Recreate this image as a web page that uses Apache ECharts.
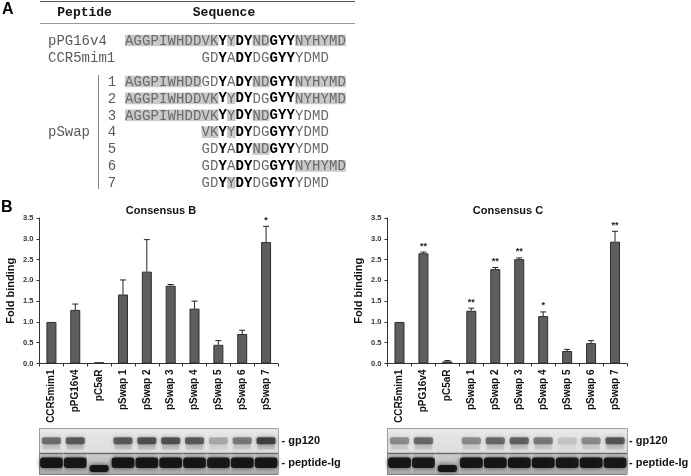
<!DOCTYPE html>
<html><head><meta charset="utf-8">
<script src="https://cdn.jsdelivr.net/npm/echarts@6/dist/echarts.min.js"></script>
<style>html,body{margin:0;padding:0;background:#fff}#c{width:691px;height:476px}</style>
</head><body><div id="c"></div>
<script>
// ---------- data ----------
const categories = ['CCR5mim1','pPG16v4','pC5aR','pSwap 1','pSwap 2','pSwap 3','pSwap 4','pSwap 5','pSwap 6','pSwap 7'];
const bindingB = [1.00, 1.29, 0.03, 1.66, 2.21, 1.87, 1.32, 0.45, 0.71, 2.92];
const errorB   = [0.00, 0.14, 0.01, 0.35, 0.77, 0.03, 0.18, 0.10, 0.09, 0.38];
const signifB  = ['', '', '', '', '', '', '', '', '', '*'];
const bindingC = [1.00, 2.65, 0.05, 1.27, 2.27, 2.51, 1.14, 0.30, 0.49, 2.93];
const errorC   = [0.00, 0.03, 0.02, 0.06, 0.04, 0.03, 0.10, 0.04, 0.06, 0.25];
const signifC  = ['', '**', '', '**', '**', '**', '*', '', '', '**'];
// blot band intensities (0..1)
const gp120B = [0.55, 0.65, 0.0, 0.65, 0.70, 0.70, 0.65, 0.28, 0.50, 0.80];
const gp120C = [0.42, 0.58, 0.0, 0.42, 0.58, 0.62, 0.50, 0.15, 0.42, 0.68];
const peptideIgB = [0.95, 0.92, 0.95, 0.95, 0.95, 0.95, 0.95, 0.92, 0.95, 0.95];
const peptideIgC = [0.95, 0.92, 0.95, 0.95, 0.95, 0.95, 0.95, 0.92, 0.95, 0.92];
const peptideIgSmall = [false, false, true, false, false, false, false, false, false, false];
const yMin = 0, yMax = 3.5, yStep = 0.5;

// sequence table: h = shaded, b = bold, n = normal
const peptideNames = ['pPG16v4', 'CCR5mim1'];
const peptideSeqs = [
  [0, [['h','AGGPIWHDDVK'],['b','Y'],['h','Y'],['b','DY'],['h','ND'],['b','GYY'],['h','NYHYMD']]],
  [9, [['n','GD'],['b','Y'],['n','A'],['b','DY'],['n','DG'],['b','GYY'],['n','YDMD']]]
];
const swapNumbers = ['1','2','3','4','5','6','7'];
const swapSeqs = [
  [0, [['h','AGGPIWHDD'],['n','GD'],['b','Y'],['n','A'],['b','DY'],['h','ND'],['b','GYY'],['h','NYHYMD']]],
  [0, [['h','AGGPIWHDDVK'],['b','Y'],['h','Y'],['b','DY'],['n','DG'],['b','GYY'],['h','NYHYMD']]],
  [0, [['h','AGGPIWHDDVK'],['b','Y'],['h','Y'],['b','DY'],['h','ND'],['b','GYY'],['n','YDMD']]],
  [9, [['h','VK'],['b','Y'],['h','Y'],['b','DY'],['n','DG'],['b','GYY'],['n','YDMD']]],
  [9, [['n','GD'],['b','Y'],['n','A'],['b','DY'],['h','ND'],['b','GYY'],['n','YDMD']]],
  [9, [['n','GD'],['b','Y'],['n','A'],['b','DY'],['n','DG'],['b','GYY'],['h','NYHYMD']]],
  [9, [['n','GD'],['b','Y'],['h','Y'],['b','DY'],['n','DG'],['b','GYY'],['n','YDMD']]]
];

// ---------- drawing ----------
const chart = echarts.init(document.getElementById('c'));
const MONO = "'Liberation Mono','Courier New',monospace";
const SANS = "Arial,'Liberation Sans',Helvetica,sans-serif";
const graphics = [];
function txt(x, y, s, font, fill, align, valign, rot) {
  graphics.push({type:'text', x:x, y:y, rotation: rot || 0, silent:true,
    style:{text:s, font:font, fill:fill, textAlign:align||'left', align:align||'left',
      textVerticalAlign:valign||'middle', verticalAlign:valign||'middle'}});
}
function line(x1,y1,x2,y2,stroke,w){
  graphics.push({type:'line', silent:true, shape:{x1,y1,x2,y2}, style:{stroke, lineWidth:w||1}});
}
// panel letters
txt(2, 10, 'A', 'bold 16px ' + SANS, '#000');
txt(1, 208, 'B', 'bold 16px ' + SANS, '#000');
// table rules & headers
line(40, 1.5, 355, 1.5, '#555', 1);
line(40, 23.5, 355, 23.5, '#999', 1);
txt(84.6, 13, 'Peptide', 'bold 13px ' + MONO, '#111', 'center');
txt(224, 13, 'Sequence', 'bold 13px ' + MONO, '#111', 'center');

const seqX0 = 125, charW = 8.5, boxH = 11.6;
function drawSeq(entry, yc) {
  const offset = entry[0];
  let k = offset;
  entry[1].forEach(seg => {
    const kind = seg[0], s = seg[1];
    if (kind === 'h') {
      graphics.push({type:'rect', silent:true, shape:{x: seqX0 + k*charW, y: yc - boxH/2, width: s.length*charW, height: boxH},
        style:{fill:'#c9c9c9'}});
    }
    for (let j = 0; j < s.length; j++) {
      const x = seqX0 + (k + j)*charW + charW/2;
      if (kind === 'b') txt(x, yc + 0.5, s[j], 'bold 14px ' + MONO, '#000', 'center');
      else txt(x, yc + 0.5, s[j], '14px ' + MONO, '#6a6a6a', 'center');
    }
    k += s.length;
  });
}
const peptideRowY = [40.5, 57.5];
peptideNames.forEach((n, i) => {
  txt(48, peptideRowY[i] + 0.5, n, '14px ' + MONO, '#5a5a5a');
  drawSeq(peptideSeqs[i], peptideRowY[i]);
});
swapNumbers.forEach((n, i) => {
  const yc = 81.5 + i*16.9;
  txt(112, yc + 0.5, n, '14px ' + MONO, '#5a5a5a', 'center');
  drawSeq(swapSeqs[i], yc);
});
txt(48, 132.5, 'pSwap', '14px ' + MONO, '#5a5a5a');
line(98.5, 75, 98.5, 189, '#888', 1);

// chart titles
txt(161, 211, 'Consensus B', 'bold 11px ' + SANS, '#111', 'center');
txt(508, 211, 'Consensus C', 'bold 11px ' + SANS, '#111', 'center');
// blot labels
txt(281.5, 441, '- gp120', 'bold 11px ' + SANS, '#111');
txt(281.5, 462.5, '- peptide-Ig', 'bold 11px ' + SANS, '#111');
txt(629, 441, '- gp120', 'bold 11px ' + SANS, '#111');
txt(629, 462.5, '- peptide-Ig', 'bold 11px ' + SANS, '#111');

const grids = [
  {left: 39.5, top: 218, width: 238.5, height: 145.5},
  {left: 387.5, top: 218, width: 239.5, height: 145.5},
  {left: 39.5, top: 428.5, width: 238.5, height: 46, show:true, borderColor:'#555', borderWidth:1},
  {left: 387.5, top: 428.5, width: 239.5, height: 46, show:true, borderColor:'#555', borderWidth:1}
];
function catAxis(gi, hidden) {
  return {type:'category', gridIndex: gi, data: categories, boundaryGap: true,
    show: !hidden,
    axisLine:{show:true, lineStyle:{color:'#333', width:1}},
    axisTick:{show:true, length:3, alignWithLabel:false, lineStyle:{color:'#333'}},
    axisLabel:{show:true, interval:0, rotate:90, margin:6, fontFamily:SANS, fontWeight:'bold', fontSize:10, color:'#111'}};
}
function valAxis(gi) {
  return {type:'value', gridIndex: gi, min:yMin, max:yMax, interval:yStep,
    name:'Fold binding', nameLocation:'middle', nameRotate:90, nameGap:23,
    nameTextStyle:{fontFamily:SANS, fontWeight:'bold', fontSize:11, color:'#111'},
    splitLine:{show:false},
    axisLine:{show:true, lineStyle:{color:'#333', width:1}},
    axisTick:{show:true, length:3, lineStyle:{color:'#333'}},
    axisLabel:{margin:6, fontFamily:SANS, fontWeight:'bold', fontSize:7.5, color:'#333', formatter: v => v.toFixed(1)}};
}
function errSeries(gi, vals, errs, sig) {
  return {type:'custom', xAxisIndex: gi, yAxisIndex: gi, z: 5, silent:true,
    data: vals.map((v, i) => [i, v, v + errs[i]]),
    renderItem: function(params, api) {
      const i = api.value(0);
      const p0 = api.coord([i, api.value(1)]);
      const p1 = api.coord([i, api.value(2)]);
      const ch = [];
      if (p0[1] - p1[1] > 0.5) {
        ch.push({type:'line', shape:{x1:p0[0], y1:p0[1], x2:p1[0], y2:p1[1]}, style:{stroke:'#222', lineWidth:1}});
        ch.push({type:'line', shape:{x1:p1[0]-3, y1:p1[1], x2:p1[0]+3, y2:p1[1]}, style:{stroke:'#222', lineWidth:1}});
      }
      const s = sig[i];
      if (s) ch.push({type:'text', style:{text:s, x:p1[0], y:p1[1] - 1.5, align:'center', verticalAlign:'bottom',
        font:'bold 9px ' + SANS, fill:'#222'}});
      return {type:'group', children: ch};
    }};
}
function blotSeries(gi, gp, pep) {
  return {type:'custom', xAxisIndex: gi, yAxisIndex: gi, silent:true,
    data: gp.map((g, i) => [i, g, pep[i]]),
    renderItem: function(params, api) {
      const cs = params.coordSys;
      const i = api.value(0);
      const w = api.size([1, 0])[0];
      const cx = api.coord([i, 0])[0];
      const top = cs.y, bot = cs.y + cs.height, div = top + 25;
      const ch = [];
      ch.push({type:'rect', shape:{x:cx - w/2, y:top, width:w, height:div - top},
        style:{fill:new echarts.graphic.LinearGradient(0,0,0,1,[{offset:0,color:'#e8e8e8'},{offset:1,color:'#dcdcdc'}])}});
      ch.push({type:'rect', shape:{x:cx - w/2, y:div, width:w, height:bot - div},
        style:{fill:new echarts.graphic.LinearGradient(0,0,0,1,[{offset:0,color:'#cfcfcf'},{offset:1,color:'#a8a8a8'}])}});
      ch.push({type:'line', shape:{x1:cx - w/2, y1:div, x2:cx + w/2, y2:div}, style:{stroke:'#6a6a6a', lineWidth:1.5}});
      const g = api.value(1);
      if (g > 0) {
        ch.push({type:'rect', shape:{x:cx - w*0.36, y:top + 15, width:w*0.72, height:6},
          style:{fill:'rgba(90,90,90,' + (g*0.3) + ')', shadowColor:'rgba(90,90,90,0.2)', shadowBlur:3}});
        ch.push({type:'rect', shape:{x:cx - w*0.4, y:top + 12.2 - 3.5, width:w*0.8, height:7, r:2},
          style:{fill:'rgba(40,40,40,' + g + ')', shadowColor:'rgba(40,40,40,' + (g*0.8) + ')', shadowBlur:4}});
      }
      const p = api.value(2);
      const small = peptideIgSmall[i];
      const pc = small ? 468.5 : 462.7, ph = small ? 7 : 10.5, pw = small ? w*0.8 : w*0.95;
      ch.push({type:'rect', shape:{x:cx - pw/2, y:pc - ph/2, width:pw, height:ph, r:3},
        style:{fill:'rgba(18,18,18,' + p + ')', shadowColor:'rgba(20,20,20,0.8)', shadowBlur:4}});
      return {type:'group', children: ch};
    }};
}
const option = {
  animation:false,
  backgroundColor:'#fff',
  grid: grids,
  xAxis: [catAxis(0), catAxis(1), catAxis(2, true), catAxis(3, true)],
  yAxis: [valAxis(0), valAxis(1),
    {type:'value', gridIndex:2, show:false, min:0, max:1},
    {type:'value', gridIndex:3, show:false, min:0, max:1}],
  series: [
    {type:'bar', xAxisIndex:0, yAxisIndex:0, data: bindingB, barWidth:10,
      itemStyle:{color:'#5e5e5e', borderColor:'#2e2e2e', borderWidth:1}},
    {type:'bar', xAxisIndex:1, yAxisIndex:1, data: bindingC, barWidth:10,
      itemStyle:{color:'#5e5e5e', borderColor:'#2e2e2e', borderWidth:1}},
    errSeries(0, bindingB, errorB, signifB),
    errSeries(1, bindingC, errorC, signifC),
    blotSeries(2, gp120B, peptideIgB),
    blotSeries(3, gp120C, peptideIgC)
  ],
  graphic: graphics
};
chart.setOption(option);
</script></body></html>
